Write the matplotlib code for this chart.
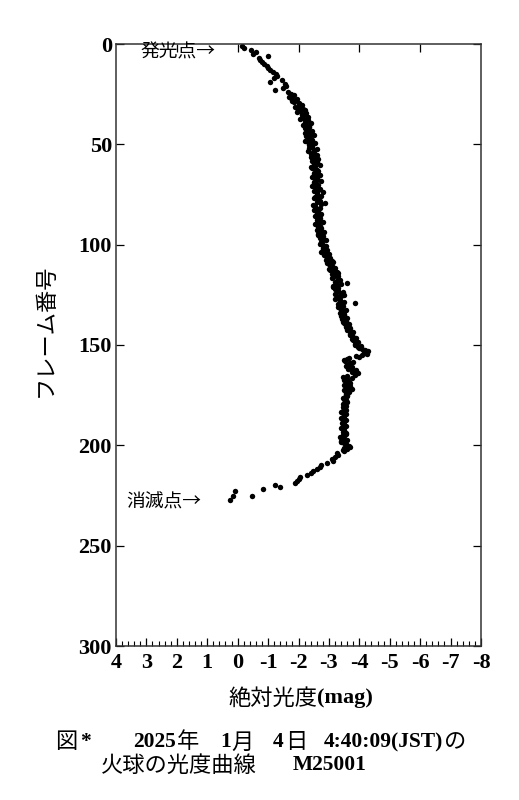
import matplotlib
matplotlib.use("Agg")
import matplotlib.pyplot as plt
from matplotlib.ticker import MultipleLocator

plt.rcParams['axes.unicode_minus'] = False

# ---- data (frame number, absolute magnitude) ----
frames_main = [
    1, 2, 3, 4, 5, 6, 7, 8, 9, 10,
    11, 12, 13, 14, 15, 16, 17, 18, 19, 20,
    21, 22, 23, 24, 25, 26, 27, 28, 29, 30,
    31, 32, 33, 34, 35, 36, 37, 38, 39, 40,
    41, 42, 43, 44, 45, 46, 47, 48, 49, 50,
    51, 52, 53, 54, 55, 56, 57, 58, 59, 60,
    61, 62, 63, 64, 65, 66, 67, 68, 69, 70,
    71, 72, 73, 74, 75, 76, 77, 78, 79, 80,
    81, 82, 83, 84, 85, 86, 87, 88, 89, 90,
    91, 92, 93, 94, 95, 96, 97, 98, 99, 100,
    101, 102, 103, 104, 105, 106, 107, 108, 109, 110,
    111, 112, 113, 114, 115, 116, 117, 118, 119, 120,
    121, 122, 123, 124, 125, 126, 127, 128, 129, 130,
    131, 132, 133, 134, 135, 136, 137, 138, 139, 140,
    141, 142, 143, 144, 145, 146, 147, 148, 149, 150,
    151, 152, 153, 154, 155, 156, 157, 158, 159, 160,
    161, 162, 163, 164, 165, 166, 167, 168, 169, 170,
    171, 172, 173, 174, 175, 176, 177, 178, 179, 180,
    181, 182, 183, 184, 185, 186, 187, 188, 189, 190,
    191, 192, 193, 194, 195, 196, 197, 198, 199, 200,
    201, 202, 203,
]
mag_main = [
    -0.15, -0.20, -0.45, -0.60, -0.50, -1.00, -0.70, -0.75, -0.80, -0.85,
    -0.95, -1.00, -1.07, -1.15, -1.25, -1.30, -1.20, -1.45, -1.07, -1.55,
    -1.60, -1.50, -1.23, -1.65, -1.75, -1.80, -1.75, -1.90, -1.85, -2.00,
    -2.05, -1.95, -2.20, -1.95, -2.10, -2.20, -2.15, -2.30, -2.20, -2.25,
    -2.35, -2.20, -2.30, -2.30, -2.40, -2.25, -2.35, -2.45, -2.30, -2.40,
    -2.45, -2.35, -2.50, -2.48, -2.40, -2.55, -2.45, -2.50, -2.60, -2.50,
    -2.55, -2.45, -2.60, -2.60, -2.50, -2.65, -2.55, -2.60, -2.50, -2.55,
    -2.45, -2.60, -2.65, -2.80, -2.60, -2.55, -2.65, -2.70, -2.87, -2.48,
    -2.55, -2.60, -2.65, -2.60, -2.70, -2.60, -2.65, -2.70, -2.60, -2.65,
    -2.65, -2.70, -2.75, -2.70, -2.65, -2.75, -2.80, -2.78, -2.75, -2.80,
    -2.85, -2.80, -2.90, -2.87, -2.85, -2.95, -3.00, -3.10, -2.95, -3.05,
    -3.10, -3.00, -3.15, -3.30, -3.20, -3.15, -3.30, -3.25, -3.60, -3.25,
    -3.14, -3.20, -3.30, -3.35, -3.50, -3.30, -3.20, -3.35, -3.85, -3.40,
    -3.30, -3.40, -3.45, -3.35, -3.50, -3.45, -3.43, -3.55, -3.50, -3.60,
    -3.55, -3.65, -3.70, -3.76, -3.70, -3.80, -3.75, -3.85, -3.90, -3.85,
    -3.96, -4.10, -4.30, -4.20, -4.10, -4.00, -3.60, -3.53, -3.70, -3.60,
    -3.75, -3.63, -3.80, -3.96, -3.85, -3.47, -3.60, -3.55, -3.70, -3.50,
    -3.60, -3.76, -3.65, -3.55, -3.60, -3.53, -3.50, -3.55, -3.50, -3.48,
    -3.47, -3.50, -3.45, -3.50, -3.48, -3.45, -3.50, -3.45, -3.42, -3.50,
    -3.47, -3.45, -3.50, -3.55, -3.45, -3.37, -3.45, -3.40, -3.50, -3.55,
    -3.70, -3.60, -3.50,
]
frames_half = [
    25.5, 26.5, 27.5, 28.5, 29.5, 30.5, 31.5, 32.5, 33.5, 34.5,
    35.5, 36.5, 37.5, 38.5, 39.5, 40.5, 41.5, 42.5, 43.5, 44.5,
    45.5, 46.5, 47.5, 48.5, 49.5, 50.5, 51.5, 52.5, 53.5, 54.5,
    55.5, 56.5, 57.5, 58.5, 59.5, 60.5, 61.5, 62.5, 63.5, 64.5,
    65.5, 66.5, 67.5, 68.5, 69.5, 70.5, 71.5, 72.5, 73.5, 74.5,
    75.5, 76.5, 77.5, 78.5, 79.5, 80.5, 81.5, 82.5, 83.5, 84.5,
    85.5, 86.5, 87.5, 88.5, 89.5, 90.5, 91.5, 92.5, 93.5, 94.5,
    95.5, 96.5, 97.5, 98.5, 99.5, 100.5, 101.5, 102.5, 103.5, 104.5,
    105.5, 106.5, 107.5, 108.5, 109.5, 110.5, 111.5, 112.5, 113.5, 114.5,
    115.5, 116.5, 117.5, 118.5, 119.5, 120.5, 121.5, 122.5, 123.5, 124.5,
    125.5, 126.5, 127.5, 128.5, 129.5, 130.5, 131.5, 132.5, 133.5, 134.5,
    135.5, 136.5, 137.5, 138.5, 139.5, 140.5, 141.5, 142.5, 143.5, 144.5,
    145.5, 146.5, 147.5, 148.5, 149.5, 150.5, 151.5, 152.5, 153.5, 154.5,
    155.5, 156.5, 157.5, 158.5, 159.5, 160.5, 161.5, 162.5, 163.5, 164.5,
    165.5, 166.5, 167.5, 168.5, 169.5, 170.5, 171.5, 172.5, 173.5, 174.5,
    175.5, 176.5, 177.5, 178.5, 179.5, 180.5, 181.5, 182.5, 183.5, 184.5,
    185.5, 186.5, 187.5, 188.5, 189.5, 190.5, 191.5, 192.5, 193.5, 194.5,
    195.5, 196.5, 197.5, 198.5, 199.5, 200.5, 201.5, 202.5,
]
mag_half = [
    -1.85, -1.70, -1.95, -1.80, -2.00, -2.10, -1.90, -2.15, -2.05, -2.25,
    -2.10, -2.30, -2.05, -2.25, -2.40, -2.15, -2.35, -2.25, -2.45, -2.20,
    -2.50, -2.30, -2.40, -2.20, -2.55, -2.35, -2.45, -2.60, -2.30, -2.50,
    -2.60, -2.40, -2.65, -2.45, -2.55, -2.70, -2.40, -2.55, -2.65, -2.50,
    -2.70, -2.45, -2.60, -2.75, -2.50, -2.65, -2.55, -2.70, -2.50, -2.60,
    -2.75, -2.50, -2.65, -2.60, -2.75, -2.55, -2.70, -2.50, -2.65, -2.75,
    -2.55, -2.70, -2.60, -2.80, -2.55, -2.70, -2.75, -2.60, -2.85, -2.65,
    -2.80, -2.70, -2.90, -2.75, -2.70, -2.90, -2.80, -2.95, -2.75, -3.00,
    -2.90, -3.05, -2.90, -3.15, -3.00, -3.10, -3.20, -3.05, -3.25, -3.10,
    -3.30, -3.10, -3.35, -3.20, -3.40, -3.15, -3.30, -3.25, -3.45, -3.20,
    -3.40, -3.25, -3.35, -3.50, -3.30, -3.45, -3.35, -3.55, -3.40, -3.50,
    -3.40, -3.60, -3.50, -3.45, -3.65, -3.55, -3.70, -3.60, -3.80, -3.70,
    -3.75, -3.90, -3.80, -3.95, -3.85, -4.05, -4.00, -4.20, -4.15, -4.25,
    -3.90, -3.65, -3.50, -3.80, -3.65, -3.55, -3.70, -3.90, -3.75, -3.85,
    -3.60, -3.75, -3.50, -3.65, -3.55, -3.70, -3.60, -3.50, -3.65, -3.55,
    -3.60, -3.45, -3.55, -3.60, -3.45, -3.55, -3.50, -3.55, -3.40, -3.55,
    -3.50, -3.40, -3.55, -3.50, -3.45, -3.55, -3.40, -3.50, -3.45, -3.55,
    -3.50, -3.45, -3.60, -3.40, -3.55, -3.65, -3.50, -3.45,
]
frames_tail = [204, 205, 206, 207, 208, 209, 210, 211, 212, 213, 214, 215,
               216, 217, 218, 219, 220, 221, 222, 223, 225, 225, 227]
mag_tail = [-3.27, -3.30, -3.20, -3.10, -3.14, -2.95, -2.75, -2.70, -2.60,
            -2.48, -2.40, -2.28, -2.05, -2.00, -1.95, -1.90, -1.23, -1.40,
            -0.84, 0.08, -0.47, 0.15, 0.25]

x_ticks = [4, 3, 2, 1, 0, -1, -2, -3, -4, -5, -6, -7, -8]
y_ticks = [0, 50, 100, 150, 200, 250, 300]

SERIF = 'Liberation Serif'
CJK = 'Noto Sans CJK JP'

fig = plt.figure(figsize=(5.19, 8.0), dpi=100)
W, H = 519, 800
ax = fig.add_axes([116 / W, 1 - 646 / H, (481 - 116) / W, (646 - 44) / H])

ax.plot(mag_main + mag_half + mag_tail, frames_main + frames_half + frames_tail,
        'o', color='black', ms=3.9, mec='black', mew=0)

ax.set_xlim(4, -8)
ax.set_ylim(300, 0)
ax.set_xticks(x_ticks)
ax.set_xticklabels([str(t) for t in x_ticks])
ax.xaxis.set_minor_locator(MultipleLocator(0.2))
ax.set_yticks(y_ticks)
ax.set_yticklabels([str(t) for t in y_ticks])

for s in ax.spines.values():
    s.set_linewidth(1.1)
    s.set_color('#333333')

ax.tick_params(axis='x', which='major', direction='in', length=6, width=0.9,
               pad=5, labelsize=16, top=False)
ax.tick_params(axis='x', which='minor', direction='in', length=3.5, width=0.8,
               top=False)
ax.tick_params(axis='y', which='major', direction='in', length=6, width=0.9,
               pad=3, labelsize=16, right=False)
for lab in ax.get_xticklabels() + ax.get_yticklabels():
    lab.set_family(SERIF)
    lab.set_fontweight('bold')

# top ticks every 2, right ticks every 50
secx = ax.secondary_xaxis('top')
secx.set_xticks([2, 0, -2, -4, -6])
secx.tick_params(direction='in', length=6, width=0.9, labeltop=False)
secx.spines['top'].set_visible(False)
secy = ax.secondary_yaxis('right')
secy.set_yticks(y_ticks)
secy.tick_params(direction='in', length=6, width=0.9, labelright=False)
secy.spines['right'].set_visible(False)

# annotations inside the plot
fig.text(140 / W, 1 - 52 / H, '発光点→', family=[CJK, 'DejaVu Sans'], fontsize=13.5,
         va='center', ha='left')
fig.text(126 / W, 1 - 502 / H, '消滅点→', family=[CJK, 'DejaVu Sans'], fontsize=13.5,
         va='center', ha='left')

# y label
fig.text(45 / W, 1 - 330 / H, 'フレーム番号', family=[CJK], fontsize=16,
         rotation=90, va='center', ha='center')

# x label (two pieces)
fig.text(317 / W, 1 - 698 / H, '絶対光度', family=[CJK], fontsize=16,
         va='center', ha='right')
fig.text(317 / W, 1 - 698 / H, '(mag)', family=[SERIF], fontweight='bold',
         fontsize=16, va='center', ha='left')

# caption
y1 = 1 - 742 / H
y2 = 1 - 765 / H
pieces = [
    (55, y1, '図', CJK, 'normal'),
    (80, y1, '*', SERIF, 'bold'),
    (133, y1, '2025', SERIF, 'bold'),
    (177, y1, '年', CJK, 'normal'),
    (220, y1, '1', SERIF, 'bold'),
    (231, y1, '月', CJK, 'normal'),
    (273, y1, '4', SERIF, 'bold'),
    (285, y1, '日', CJK, 'normal'),
    (324, y1, '4:40:09(JST)', SERIF, 'bold'),
    (444, y1, 'の', CJK, 'normal'),
    (101, y2, '火球の光度曲線', CJK, 'normal'),
    (293, y2, 'M25001', SERIF, 'bold'),
]
for x, y, s, fam, wt in pieces:
    fig.text(x / W, y, s, family=[fam], fontweight=wt,
             fontsize=16 if fam == CJK else 15.5, va='center', ha='left')

fig.savefig('out.png', dpi=100, facecolor='white')
